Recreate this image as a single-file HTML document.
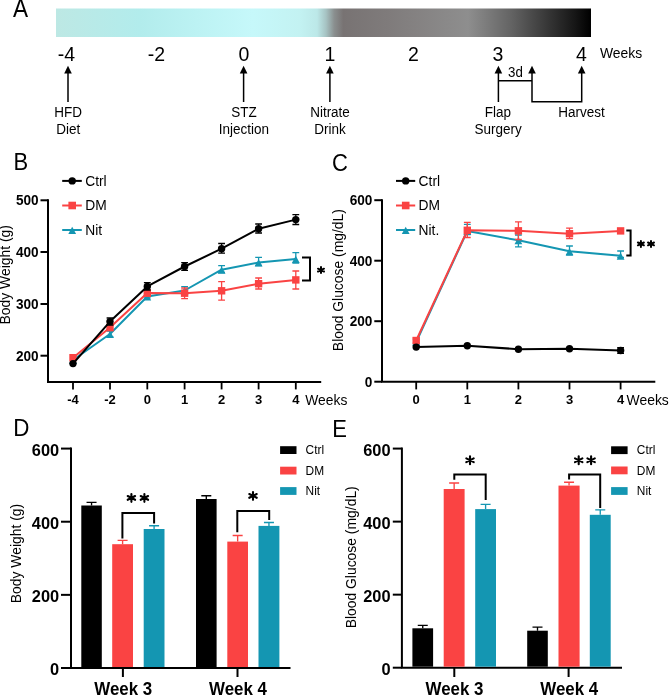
<!DOCTYPE html>
<html><head><meta charset="utf-8">
<style>
html,body{margin:0;padding:0;background:#fff;width:669px;height:696px;overflow:hidden;}
svg{display:block;will-change:transform;font-family:"Liberation Sans",sans-serif;}
.b{font-weight:bold;}
</style></head><body>
<svg width="669" height="696" viewBox="0 0 669 696">
<defs>
<linearGradient id="g" x1="56" y1="0" x2="591" y2="0" gradientUnits="userSpaceOnUse">
<stop offset="0" stop-color="#bde8e4"/>
<stop offset="0.157" stop-color="#b2ecec"/>
<stop offset="0.368" stop-color="#c6f8fa"/>
<stop offset="0.456" stop-color="#c3f2f2"/>
<stop offset="0.488" stop-color="#bce8e8"/>
<stop offset="0.505" stop-color="#a6c2c2"/>
<stop offset="0.52" stop-color="#8a8f8f"/>
<stop offset="0.537" stop-color="#787373"/>
<stop offset="0.62" stop-color="#7f7b7b"/>
<stop offset="0.77" stop-color="#8e8e8e"/>
<stop offset="0.85" stop-color="#646464"/>
<stop offset="0.92" stop-color="#363636"/>
<stop offset="0.97" stop-color="#161616"/>
<stop offset="1" stop-color="#000"/>
</linearGradient>
</defs>
<text transform="translate(13,16.7) scale(1,1.12)" font-size="22.6">A</text>
<rect x="56" y="8.5" width="535" height="28.5" fill="url(#g)"/>
<text transform="translate(66.5,60.8) scale(1,1.04)" font-size="19.5" text-anchor="middle">-4</text>
<text transform="translate(156.5,60.8) scale(1,1.04)" font-size="19.5" text-anchor="middle">-2</text>
<text transform="translate(244,60.8) scale(1,1.04)" font-size="19.5" text-anchor="middle">0</text>
<text transform="translate(330,60.8) scale(1,1.04)" font-size="19.5" text-anchor="middle">1</text>
<text transform="translate(413.5,60.8) scale(1,1.04)" font-size="19.5" text-anchor="middle">2</text>
<text transform="translate(498,60.8) scale(1,1.04)" font-size="19.5" text-anchor="middle">3</text>
<text transform="translate(581.5,60.8) scale(1,1.04)" font-size="19.5" text-anchor="middle">4</text>
<text transform="translate(600,58) scale(1,1.04)" font-size="13.9">Weeks</text>
<g stroke="#000" stroke-width="1.5" fill="none">
<line x1="68" y1="72" x2="68" y2="102"/>
<line x1="243.6" y1="72" x2="243.6" y2="102"/>
<line x1="329.9" y1="72" x2="329.9" y2="102"/>
<polyline points="498.4,72 498.4,102"/>
<polyline points="498.4,80.8 532,80.8"/>
<polyline points="532,72 532,101.8 581.7,101.8 581.7,72"/>
</g>
<g fill="#000">
<path d="M68,65.8 L64.2,73.6 L71.8,73.6 Z"/>
<path d="M243.6,65.8 L239.79999999999998,73.6 L247.4,73.6 Z"/>
<path d="M329.9,65.8 L326.09999999999997,73.6 L333.7,73.6 Z"/>
<path d="M498.4,65.8 L494.59999999999997,73.6 L502.2,73.6 Z"/>
<path d="M532,65.8 L528.2,73.6 L535.8,73.6 Z"/>
<path d="M581.7,65.8 L577.9000000000001,73.6 L585.5,73.6 Z"/>
</g>
<text transform="translate(68.2,116.7) scale(1,1.04)" font-size="13.5" text-anchor="middle">HFD</text>
<text transform="translate(68.2,133.6) scale(1,1.04)" font-size="13.5" text-anchor="middle">Diet</text>
<text transform="translate(244,116.7) scale(1,1.04)" font-size="13.5" text-anchor="middle">STZ</text>
<text transform="translate(244,133.6) scale(1,1.04)" font-size="13.5" text-anchor="middle">Injection</text>
<text transform="translate(330,116.7) scale(1,1.04)" font-size="13.5" text-anchor="middle">Nitrate</text>
<text transform="translate(330,133.6) scale(1,1.04)" font-size="13.5" text-anchor="middle">Drink</text>
<text transform="translate(498,116.7) scale(1,1.04)" font-size="13.5" text-anchor="middle">Flap</text>
<text transform="translate(498,133.6) scale(1,1.04)" font-size="13.5" text-anchor="middle">Surgery</text>
<text transform="translate(581.5,116.7) scale(1,1.04)" font-size="13.5" text-anchor="middle">Harvest</text>
<text transform="translate(515.5,76.8) scale(1,1.04)" font-size="13.3" text-anchor="middle">3d</text>
<!-- PANEL B -->
<text transform="translate(13.4,169.6) scale(1,1.12)" font-size="22">B</text>
<line x1="62.2" y1="180.9" x2="81.8" y2="180.9" stroke="#000" stroke-width="2"/>
<circle cx="72.2" cy="180.9" r="3.7" fill="#000"/>
<text transform="translate(85.2,185.6) scale(1,1.04)" font-size="13.8">Ctrl</text>
<line x1="62.2" y1="205.5" x2="81.8" y2="205.5" stroke="#fa4343" stroke-width="2"/>
<rect x="68.40" y="201.70" width="7.6" height="7.6" fill="#fa4343"/>
<text transform="translate(85.2,210.2) scale(1,1.04)" font-size="13.8">DM</text>
<line x1="62.2" y1="230.0" x2="81.8" y2="230.0" stroke="#1496b2" stroke-width="2"/>
<path d="M72.20,226.76 L68.30,233.96 L76.10,233.96 Z" fill="#1496b2"/>
<text transform="translate(85.2,234.7) scale(1,1.04)" font-size="13.8">Nit</text>
<path d="M48,199.3 V382 H321.2" stroke="#000" stroke-width="2" fill="none"/>
<line x1="40.5" y1="200.3" x2="48" y2="200.3" stroke="#000" stroke-width="2"/>
<text transform="translate(38.6,205.3) scale(1,1.04)" font-size="13.6" class="b" text-anchor="end">500</text>
<line x1="40.5" y1="252" x2="48" y2="252" stroke="#000" stroke-width="2"/>
<text transform="translate(38.6,257) scale(1,1.04)" font-size="13.6" class="b" text-anchor="end">400</text>
<line x1="40.5" y1="304" x2="48" y2="304" stroke="#000" stroke-width="2"/>
<text transform="translate(38.6,309) scale(1,1.04)" font-size="13.6" class="b" text-anchor="end">300</text>
<line x1="40.5" y1="355.7" x2="48" y2="355.7" stroke="#000" stroke-width="2"/>
<text transform="translate(38.6,360.7) scale(1,1.04)" font-size="13.6" class="b" text-anchor="end">200</text>
<line x1="73" y1="382" x2="73" y2="389.4" stroke="#000" stroke-width="1.8"/>
<text transform="translate(73,404.2) scale(1,1.04)" font-size="13" class="b" text-anchor="middle">-4</text>
<line x1="110" y1="382" x2="110" y2="389.4" stroke="#000" stroke-width="1.8"/>
<text transform="translate(110,404.2) scale(1,1.04)" font-size="13" class="b" text-anchor="middle">-2</text>
<line x1="147.3" y1="382" x2="147.3" y2="389.4" stroke="#000" stroke-width="1.8"/>
<text transform="translate(147.3,404.2) scale(1,1.04)" font-size="13" class="b" text-anchor="middle">0</text>
<line x1="184.6" y1="382" x2="184.6" y2="389.4" stroke="#000" stroke-width="1.8"/>
<text transform="translate(184.6,404.2) scale(1,1.04)" font-size="13" class="b" text-anchor="middle">1</text>
<line x1="221.6" y1="382" x2="221.6" y2="389.4" stroke="#000" stroke-width="1.8"/>
<text transform="translate(221.6,404.2) scale(1,1.04)" font-size="13" class="b" text-anchor="middle">2</text>
<line x1="258.6" y1="382" x2="258.6" y2="389.4" stroke="#000" stroke-width="1.8"/>
<text transform="translate(258.6,404.2) scale(1,1.04)" font-size="13" class="b" text-anchor="middle">3</text>
<line x1="295.8" y1="382" x2="295.8" y2="389.4" stroke="#000" stroke-width="1.8"/>
<text transform="translate(295.8,404.2) scale(1,1.04)" font-size="13" class="b" text-anchor="middle">4</text>
<text transform="translate(305.3,405) scale(1,1.04)" font-size="13.85">Weeks</text>
<text transform="translate(9.8,274.75) rotate(-90) scale(1,1.0)" font-size="13.9" text-anchor="middle">Body Weight (g)</text>
<polyline points="73,360 110,334 147.3,296.5 184.6,290.5 221.6,269.7 258.6,262.6 295.8,259" stroke="#1496b2" stroke-width="2" fill="none" stroke-linejoin="round"/>
<path d="M110,331 V337 M106.6,331 h6.8 M106.6,337 h6.8" stroke="#1496b2" stroke-width="1.3" fill="none"/>
<path d="M147.3,293.5 V297.8 M143.9,293.5 h6.8 M143.9,297.8 h6.8" stroke="#1496b2" stroke-width="1.3" fill="none"/>
<path d="M184.6,286.6 V294.5 M181.2,286.6 h6.8 M181.2,294.5 h6.8" stroke="#1496b2" stroke-width="1.3" fill="none"/>
<path d="M221.6,265.6 V272.5 M218.2,265.6 h6.8 M218.2,272.5 h6.8" stroke="#1496b2" stroke-width="1.3" fill="none"/>
<path d="M258.6,257.4 V265.5 M255.20000000000002,257.4 h6.8 M255.20000000000002,265.5 h6.8" stroke="#1496b2" stroke-width="1.3" fill="none"/>
<path d="M295.8,252.6 V263.2 M292.40000000000003,252.6 h6.8 M292.40000000000003,263.2 h6.8" stroke="#1496b2" stroke-width="1.3" fill="none"/>
<path d="M73.00,356.76 L69.10,363.96 L76.90,363.96 Z" fill="#1496b2"/>
<path d="M110.00,330.76 L106.10,337.96 L113.90,337.96 Z" fill="#1496b2"/>
<path d="M147.30,293.26 L143.40,300.46 L151.20,300.46 Z" fill="#1496b2"/>
<path d="M184.60,287.26 L180.70,294.46 L188.50,294.46 Z" fill="#1496b2"/>
<path d="M221.60,266.46 L217.70,273.66 L225.50,273.66 Z" fill="#1496b2"/>
<path d="M258.60,259.36 L254.70,266.56 L262.50,266.56 Z" fill="#1496b2"/>
<path d="M295.80,255.76 L291.90,262.96 L299.70,262.96 Z" fill="#1496b2"/>
<polyline points="73,357.7 110,327.5 147.3,293 184.6,293.2 221.6,290.8 258.6,283.7 295.8,279.9" stroke="#fa4343" stroke-width="2" fill="none" stroke-linejoin="round"/>
<path d="M110,324.5 V330.5 M106.6,324.5 h6.8 M106.6,330.5 h6.8" stroke="#fa4343" stroke-width="1.3" fill="none"/>
<path d="M147.3,290 V296 M143.9,290 h6.8 M143.9,296 h6.8" stroke="#fa4343" stroke-width="1.3" fill="none"/>
<path d="M184.6,288 V298.7 M181.2,288 h6.8 M181.2,298.7 h6.8" stroke="#fa4343" stroke-width="1.3" fill="none"/>
<path d="M221.6,281.7 V300.2 M218.2,281.7 h6.8 M218.2,300.2 h6.8" stroke="#fa4343" stroke-width="1.3" fill="none"/>
<path d="M258.6,278 V289 M255.20000000000002,278 h6.8 M255.20000000000002,289 h6.8" stroke="#fa4343" stroke-width="1.3" fill="none"/>
<path d="M295.8,271 V289 M292.40000000000003,271 h6.8 M292.40000000000003,289 h6.8" stroke="#fa4343" stroke-width="1.3" fill="none"/>
<rect x="69.30" y="354.00" width="7.4" height="7.4" fill="#fa4343"/>
<rect x="106.30" y="323.80" width="7.4" height="7.4" fill="#fa4343"/>
<rect x="143.60" y="289.30" width="7.4" height="7.4" fill="#fa4343"/>
<rect x="180.90" y="289.50" width="7.4" height="7.4" fill="#fa4343"/>
<rect x="217.90" y="287.10" width="7.4" height="7.4" fill="#fa4343"/>
<rect x="254.90" y="280.00" width="7.4" height="7.4" fill="#fa4343"/>
<rect x="292.10" y="276.20" width="7.4" height="7.4" fill="#fa4343"/>
<polyline points="73,363.6 110,321.6 147.3,286.4 184.6,266.5 221.6,248.7 258.6,228.8 295.8,219.6" stroke="#000" stroke-width="2" fill="none" stroke-linejoin="round"/>
<path d="M110,318 V325 M106.6,318 h6.8 M106.6,325 h6.8" stroke="#000" stroke-width="1.3" fill="none"/>
<path d="M147.3,282.7 V290 M143.9,282.7 h6.8 M143.9,290 h6.8" stroke="#000" stroke-width="1.3" fill="none"/>
<path d="M184.6,262.6 V270.4 M181.2,262.6 h6.8 M181.2,270.4 h6.8" stroke="#000" stroke-width="1.3" fill="none"/>
<path d="M221.6,243.5 V253.2 M218.2,243.5 h6.8 M218.2,253.2 h6.8" stroke="#000" stroke-width="1.3" fill="none"/>
<path d="M258.6,224 V233 M255.20000000000002,224 h6.8 M255.20000000000002,233 h6.8" stroke="#000" stroke-width="1.3" fill="none"/>
<path d="M295.8,214.6 V224.5 M292.40000000000003,214.6 h6.8 M292.40000000000003,224.5 h6.8" stroke="#000" stroke-width="1.3" fill="none"/>
<circle cx="73" cy="363.6" r="3.7" fill="#000"/>
<circle cx="110" cy="321.6" r="3.7" fill="#000"/>
<circle cx="147.3" cy="286.4" r="3.7" fill="#000"/>
<circle cx="184.6" cy="266.5" r="3.7" fill="#000"/>
<circle cx="221.6" cy="248.7" r="3.7" fill="#000"/>
<circle cx="258.6" cy="228.8" r="3.7" fill="#000"/>
<circle cx="295.8" cy="219.6" r="3.7" fill="#000"/>
<path d="M302,257.5 H310 V280.6 H302" stroke="#000" stroke-width="2" fill="none"/>
<path d="M321.0,267.10 V273.10 M318.01,268.71 L323.99,271.49 M318.01,271.49 L323.99,268.71" stroke="#000" stroke-width="2.0" stroke-linecap="round" fill="none"/>
<!-- PANEL C -->
<text transform="translate(332,170.6) scale(1,1.12)" font-size="22">C</text>
<line x1="396" y1="180.9" x2="415.2" y2="180.9" stroke="#000" stroke-width="2"/>
<circle cx="405.7" cy="180.9" r="3.7" fill="#000"/>
<text transform="translate(418.6,185.6) scale(1,1.04)" font-size="13.8">Ctrl</text>
<line x1="396" y1="205.5" x2="415.2" y2="205.5" stroke="#fa4343" stroke-width="2"/>
<rect x="401.90" y="201.70" width="7.6" height="7.6" fill="#fa4343"/>
<text transform="translate(418.6,210.2) scale(1,1.04)" font-size="13.8">DM</text>
<line x1="396" y1="230.0" x2="415.2" y2="230.0" stroke="#1496b2" stroke-width="2"/>
<path d="M405.70,226.76 L401.80,233.96 L409.60,233.96 Z" fill="#1496b2"/>
<text transform="translate(418.6,234.7) scale(1,1.04)" font-size="13.8">Nit.</text>
<path d="M382,199.2 V381.7 H655.3" stroke="#000" stroke-width="2" fill="none"/>
<line x1="374.3" y1="200.20" x2="382" y2="200.20" stroke="#000" stroke-width="2"/>
<text transform="translate(372.3,205.2) scale(1,1.04)" font-size="13.6" class="b" text-anchor="end">600</text>
<line x1="374.3" y1="260.70" x2="382" y2="260.70" stroke="#000" stroke-width="2"/>
<text transform="translate(372.3,265.7) scale(1,1.04)" font-size="13.6" class="b" text-anchor="end">400</text>
<line x1="374.3" y1="321.20" x2="382" y2="321.20" stroke="#000" stroke-width="2"/>
<text transform="translate(372.3,326.2) scale(1,1.04)" font-size="13.6" class="b" text-anchor="end">200</text>
<line x1="374.3" y1="381.70" x2="382" y2="381.70" stroke="#000" stroke-width="2"/>
<text transform="translate(372.3,386.7) scale(1,1.04)" font-size="13.6" class="b" text-anchor="end">0</text>
<line x1="416.2" y1="381.7" x2="416.2" y2="389.4" stroke="#000" stroke-width="1.8"/>
<text transform="translate(416.2,404.2) scale(1,1.04)" font-size="13" class="b" text-anchor="middle">0</text>
<line x1="467.3" y1="381.7" x2="467.3" y2="389.4" stroke="#000" stroke-width="1.8"/>
<text transform="translate(467.3,404.2) scale(1,1.04)" font-size="13" class="b" text-anchor="middle">1</text>
<line x1="518.4" y1="381.7" x2="518.4" y2="389.4" stroke="#000" stroke-width="1.8"/>
<text transform="translate(518.4,404.2) scale(1,1.04)" font-size="13" class="b" text-anchor="middle">2</text>
<line x1="569.5" y1="381.7" x2="569.5" y2="389.4" stroke="#000" stroke-width="1.8"/>
<text transform="translate(569.5,404.2) scale(1,1.04)" font-size="13" class="b" text-anchor="middle">3</text>
<line x1="620.6" y1="381.7" x2="620.6" y2="389.4" stroke="#000" stroke-width="1.8"/>
<text transform="translate(620.6,404.2) scale(1,1.04)" font-size="13" class="b" text-anchor="middle">4</text>
<text transform="translate(626.6,404.8) scale(1,1.04)" font-size="13.9">Weeks</text>
<text transform="translate(343.3,280.1) rotate(-90) scale(1,1.0)" font-size="13.9" text-anchor="middle">Blood Glucose (mg/dL)</text>
<polyline points="416.2,342 467.3,231 518.4,240.3 569.5,251.3 620.6,255.8" stroke="#1496b2" stroke-width="2" fill="none" stroke-linejoin="round"/>
<path d="M416.2,339.5 V344.5 M412.8,339.5 h6.8 M412.8,344.5 h6.8" stroke="#1496b2" stroke-width="1.3" fill="none"/>
<path d="M467.3,224.3 V234.5 M463.90000000000003,224.3 h6.8 M463.90000000000003,234.5 h6.8" stroke="#1496b2" stroke-width="1.3" fill="none"/>
<path d="M518.4,235 V246.8 M515.0,235 h6.8 M515.0,246.8 h6.8" stroke="#1496b2" stroke-width="1.3" fill="none"/>
<path d="M569.5,246 V255 M566.1,246 h6.8 M566.1,255 h6.8" stroke="#1496b2" stroke-width="1.3" fill="none"/>
<path d="M620.6,251 V257.5 M617.2,251 h6.8 M617.2,257.5 h6.8" stroke="#1496b2" stroke-width="1.3" fill="none"/>
<path d="M416.20,338.76 L412.30,345.96 L420.10,345.96 Z" fill="#1496b2"/>
<path d="M467.30,227.76 L463.40,234.96 L471.20,234.96 Z" fill="#1496b2"/>
<path d="M518.40,237.06 L514.50,244.26 L522.30,244.26 Z" fill="#1496b2"/>
<path d="M569.50,248.06 L565.60,255.26 L573.40,255.26 Z" fill="#1496b2"/>
<path d="M620.60,252.56 L616.70,259.76 L624.50,259.76 Z" fill="#1496b2"/>
<polyline points="416.2,340.5 467.3,230.3 518.4,230.8 569.5,233.7 620.6,230.9" stroke="#fa4343" stroke-width="2" fill="none" stroke-linejoin="round"/>
<path d="M416.2,338 V343 M412.8,338 h6.8 M412.8,343 h6.8" stroke="#fa4343" stroke-width="1.3" fill="none"/>
<path d="M467.3,222.3 V237.5 M463.90000000000003,222.3 h6.8 M463.90000000000003,237.5 h6.8" stroke="#fa4343" stroke-width="1.3" fill="none"/>
<path d="M518.4,221.8 V239.5 M515.0,221.8 h6.8 M515.0,239.5 h6.8" stroke="#fa4343" stroke-width="1.3" fill="none"/>
<path d="M569.5,228.2 V238.7 M566.1,228.2 h6.8 M566.1,238.7 h6.8" stroke="#fa4343" stroke-width="1.3" fill="none"/>
<path d="M620.6,229 V233 M617.2,229 h6.8 M617.2,233 h6.8" stroke="#fa4343" stroke-width="1.3" fill="none"/>
<rect x="412.50" y="336.80" width="7.4" height="7.4" fill="#fa4343"/>
<rect x="463.60" y="226.60" width="7.4" height="7.4" fill="#fa4343"/>
<rect x="514.70" y="227.10" width="7.4" height="7.4" fill="#fa4343"/>
<rect x="565.80" y="230.00" width="7.4" height="7.4" fill="#fa4343"/>
<rect x="616.90" y="227.20" width="7.4" height="7.4" fill="#fa4343"/>
<polyline points="416.2,347.1 467.3,345.7 518.4,349.2 569.5,348.8 620.6,350.5" stroke="#000" stroke-width="2" fill="none" stroke-linejoin="round"/>
<path d="M620.6,347.6 V353.4 M617.2,347.6 h6.8 M617.2,353.4 h6.8" stroke="#000" stroke-width="1.3" fill="none"/>
<circle cx="416.2" cy="347.1" r="3.7" fill="#000"/>
<circle cx="467.3" cy="345.7" r="3.7" fill="#000"/>
<circle cx="518.4" cy="349.2" r="3.7" fill="#000"/>
<circle cx="569.5" cy="348.8" r="3.7" fill="#000"/>
<circle cx="620.6" cy="350.5" r="3.7" fill="#000"/>
<path d="M626.3,230.4 H630.6 V255.4 H626.3" stroke="#000" stroke-width="2" fill="none"/>
<path d="M640.9,240.90 V246.90 M637.91,242.51 L643.89,245.29 M637.91,245.29 L643.89,242.51" stroke="#000" stroke-width="2.0" stroke-linecap="round" fill="none"/>
<path d="M651.0,240.90 V246.90 M648.01,242.51 L653.99,245.29 M648.01,245.29 L653.99,242.51" stroke="#000" stroke-width="2.0" stroke-linecap="round" fill="none"/>
<!-- PANEL D -->
<text transform="translate(13.2,436.4) scale(1,1.1)" font-size="22.4">D</text>
<rect x="280.1" y="446.20" width="16.4" height="7.8" fill="#000"/>
<text transform="translate(305.6,454.2) scale(1,1.04)" font-size="11.9">Ctrl</text>
<rect x="280.1" y="466.70" width="16.4" height="7.8" fill="#fa4343"/>
<text transform="translate(305.6,474.7) scale(1,1.04)" font-size="11.9">DM</text>
<rect x="280.1" y="487.10" width="16.4" height="7.8" fill="#1496b2"/>
<text transform="translate(305.6,495.1) scale(1,1.04)" font-size="11.9">Nit</text>
<path d="M71,447.6 V668 H290.5" stroke="#000" stroke-width="2" fill="none"/>
<line x1="61" y1="448.58" x2="71" y2="448.58" stroke="#000" stroke-width="2"/>
<text transform="translate(59.2,455.58) scale(1,1.04)" font-size="16.4" class="b" text-anchor="end">600</text>
<line x1="61" y1="521.72" x2="71" y2="521.72" stroke="#000" stroke-width="2"/>
<text transform="translate(59.2,528.72) scale(1,1.04)" font-size="16.4" class="b" text-anchor="end">400</text>
<line x1="61" y1="594.86" x2="71" y2="594.86" stroke="#000" stroke-width="2"/>
<text transform="translate(59.2,601.86) scale(1,1.04)" font-size="16.4" class="b" text-anchor="end">200</text>
<line x1="61" y1="668.00" x2="71" y2="668.00" stroke="#000" stroke-width="2"/>
<text transform="translate(59.2,675.0) scale(1,1.04)" font-size="16.4" class="b" text-anchor="end">0</text>
<line x1="122.9" y1="668" x2="122.9" y2="677" stroke="#000" stroke-width="2"/>
<text transform="translate(123.25,695.2) scale(1,1.04)" font-size="16.9" class="b" text-anchor="middle">Week 3</text>
<line x1="237.5" y1="668" x2="237.5" y2="677" stroke="#000" stroke-width="2"/>
<text transform="translate(238,695.2) scale(1,1.04)" font-size="16.9" class="b" text-anchor="middle">Week 4</text>
<text transform="translate(21,553.5) rotate(-90) scale(1,1.0)" font-size="13.9" text-anchor="middle">Body Weight (g)</text>
<rect x="81.3" y="505.5" width="20.50" height="161.50" fill="#000"/>
<path d="M91.55,505.5 V502.30 M86.55,502.30 h10" stroke="#000" stroke-width="1.35" fill="none"/>
<rect x="112.2" y="544.2" width="20.80" height="122.80" fill="#fa4343"/>
<path d="M122.60,544.2 V540.30 M117.60,540.30 h10" stroke="#fa4343" stroke-width="1.35" fill="none"/>
<rect x="143.7" y="529" width="20.80" height="138.00" fill="#1496b2"/>
<path d="M154.10,529 V525.70 M149.10,525.70 h10" stroke="#1496b2" stroke-width="1.35" fill="none"/>
<rect x="196" y="499" width="20.60" height="168.00" fill="#000"/>
<path d="M206.30,499 V495.70 M201.30,495.70 h10" stroke="#000" stroke-width="1.35" fill="none"/>
<rect x="227.3" y="541.6" width="20.70" height="125.40" fill="#fa4343"/>
<path d="M237.65,541.6 V535.50 M232.65,535.50 h10" stroke="#fa4343" stroke-width="1.35" fill="none"/>
<rect x="258.5" y="525.9" width="20.90" height="141.10" fill="#1496b2"/>
<path d="M268.95,525.9 V522.50 M263.95,522.50 h10" stroke="#1496b2" stroke-width="1.35" fill="none"/>
<path d="M122.4,538.5 V512.9 H154.1 V523.4" stroke="#000" stroke-width="2" fill="none"/>
<path d="M237.3,532.3 V511.1 H269.2 V520" stroke="#000" stroke-width="2" fill="none"/>
<path d="M131.4,493.95 V501.85 M127.70,496.02 L135.10,499.78 M127.70,499.78 L135.10,496.02" stroke="#000" stroke-width="2.1" stroke-linecap="round" fill="none"/>
<path d="M144.4,493.95 V501.85 M140.70,496.02 L148.10,499.78 M140.70,499.78 L148.10,496.02" stroke="#000" stroke-width="2.1" stroke-linecap="round" fill="none"/>
<path d="M253.0,491.95 V499.85 M249.30,494.02 L256.70,497.78 M249.30,497.78 L256.70,494.02" stroke="#000" stroke-width="2.1" stroke-linecap="round" fill="none"/>
<!-- PANEL E -->
<text transform="translate(332.3,436.9) scale(1,1.1)" font-size="22">E</text>
<rect x="611.1" y="446.30" width="16.5" height="7.8" fill="#000"/>
<text transform="translate(636.8,454.3) scale(1,1.04)" font-size="11.9">Ctrl</text>
<rect x="611.1" y="466.50" width="16.5" height="7.8" fill="#fa4343"/>
<text transform="translate(636.8,474.5) scale(1,1.04)" font-size="11.9">DM</text>
<rect x="611.1" y="487.10" width="16.5" height="7.8" fill="#1496b2"/>
<text transform="translate(636.8,495.1) scale(1,1.04)" font-size="11.9">Nit</text>
<path d="M401.9,447.6 V667.7 H622" stroke="#000" stroke-width="2" fill="none"/>
<line x1="392.8" y1="448.58" x2="401.7" y2="448.58" stroke="#000" stroke-width="2"/>
<text transform="translate(390.6,455.58) scale(1,1.04)" font-size="16.4" class="b" text-anchor="end">600</text>
<line x1="392.8" y1="521.62" x2="401.7" y2="521.62" stroke="#000" stroke-width="2"/>
<text transform="translate(390.6,528.62) scale(1,1.04)" font-size="16.4" class="b" text-anchor="end">400</text>
<line x1="392.8" y1="594.66" x2="401.7" y2="594.66" stroke="#000" stroke-width="2"/>
<text transform="translate(390.6,601.66) scale(1,1.04)" font-size="16.4" class="b" text-anchor="end">200</text>
<line x1="392.8" y1="667.70" x2="401.7" y2="667.70" stroke="#000" stroke-width="2"/>
<text transform="translate(390.6,674.7) scale(1,1.04)" font-size="16.4" class="b" text-anchor="end">0</text>
<line x1="454.3" y1="667.7" x2="454.3" y2="677" stroke="#000" stroke-width="2"/>
<text transform="translate(454.45,695.2) scale(1,1.04)" font-size="16.9" class="b" text-anchor="middle">Week 3</text>
<line x1="568.6" y1="667.7" x2="568.6" y2="677" stroke="#000" stroke-width="2"/>
<text transform="translate(569.3,695.2) scale(1,1.04)" font-size="16.9" class="b" text-anchor="middle">Week 4</text>
<text transform="translate(355.5,557.3) rotate(-90) scale(1,1.0)" font-size="13.9" text-anchor="middle">Blood Glucose (mg/dL)</text>
<rect x="412.4" y="628.3" width="20.70" height="38.40" fill="#000"/>
<path d="M422.75,628.3 V625.40 M417.75,625.40 h10" stroke="#000" stroke-width="1.35" fill="none"/>
<rect x="443.7" y="489" width="20.90" height="177.70" fill="#fa4343"/>
<path d="M454.15,489 V483.00 M449.15,483.00 h10" stroke="#fa4343" stroke-width="1.35" fill="none"/>
<rect x="475.2" y="509.1" width="20.80" height="157.60" fill="#1496b2"/>
<path d="M485.60,509.1 V504.30 M480.60,504.30 h10" stroke="#1496b2" stroke-width="1.35" fill="none"/>
<rect x="527.2" y="630.7" width="20.60" height="36.00" fill="#000"/>
<path d="M537.50,630.7 V627.10 M532.50,627.10 h10" stroke="#000" stroke-width="1.35" fill="none"/>
<rect x="558.5" y="485.6" width="21.10" height="181.10" fill="#fa4343"/>
<path d="M569.05,485.6 V482.20 M564.05,482.20 h10" stroke="#fa4343" stroke-width="1.35" fill="none"/>
<rect x="589.8" y="514.8" width="20.90" height="151.90" fill="#1496b2"/>
<path d="M600.25,514.8 V509.80 M595.25,509.80 h10" stroke="#1496b2" stroke-width="1.35" fill="none"/>
<path d="M454.3,479.8 V474.4 H485.7 V500.1" stroke="#000" stroke-width="2" fill="none"/>
<path d="M569.1,479.6 V474.5 H600.2 V507.9" stroke="#000" stroke-width="2" fill="none"/>
<path d="M470.0,456.35 V464.25 M466.30,458.42 L473.70,462.18 M466.30,462.18 L473.70,458.42" stroke="#000" stroke-width="2.1" stroke-linecap="round" fill="none"/>
<path d="M578.7,456.35 V464.25 M575.00,458.42 L582.40,462.18 M575.00,462.18 L582.40,458.42" stroke="#000" stroke-width="2.1" stroke-linecap="round" fill="none"/>
<path d="M591.1,456.35 V464.25 M587.40,458.42 L594.80,462.18 M587.40,462.18 L594.80,458.42" stroke="#000" stroke-width="2.1" stroke-linecap="round" fill="none"/>
</svg>
</body></html>
